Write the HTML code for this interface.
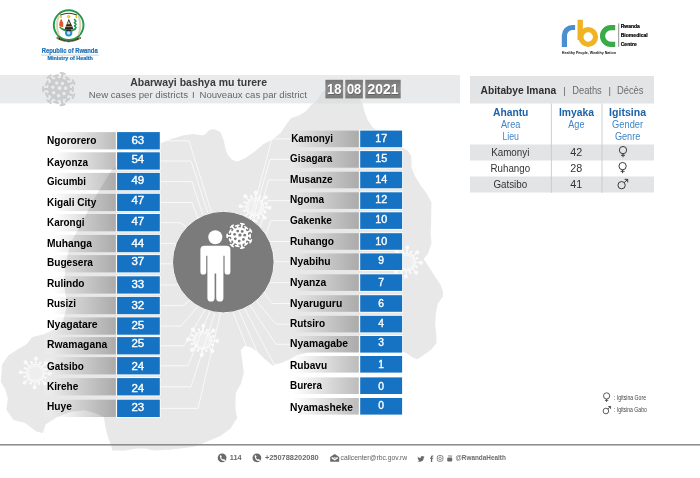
<!DOCTYPE html>
<html lang="rw"><head><meta charset="utf-8"><title>Abarwayi bashya mu turere 18 08 2021</title>
<style>html,body{margin:0;padding:0;background:#fff;}body{width:700px;height:478px;overflow:hidden;}svg{display:block;will-change:transform;}svg text{font-family:"Liberation Sans",sans-serif;}</style>
</head><body>
<svg width="700" height="478" viewBox="0 0 700 478">
<defs>
<linearGradient id="lg" x1="0" y1="0" x2="1" y2="0"><stop offset="0" stop-color="#000" stop-opacity="0"/><stop offset="0.12" stop-color="#000" stop-opacity="0"/><stop offset="1" stop-color="#000" stop-opacity="0.265"/></linearGradient>
<linearGradient id="lw" x1="0" y1="0" x2="1" y2="0"><stop offset="0" stop-color="#fff" stop-opacity="0.4"/><stop offset="0.3" stop-color="#fff" stop-opacity="0"/></linearGradient>
<linearGradient id="dg" x1="0" y1="0" x2="0" y2="1"><stop offset="0" stop-color="#777"/><stop offset="0.5" stop-color="#8c8c8c"/><stop offset="1" stop-color="#777"/></linearGradient>
</defs>
<rect width="700" height="478" fill="#fff"/>
<path d="M160,144 L170,140 L183,136 L193,134.5 L203,136 L206.5,134 L208.6,131.4 L211,130 L214.3,129.8 L220,132.5 L222.9,140 L225.7,151.4 L228,156 L231.4,160 L237.1,162.2 L245.7,158.6 L255.7,151.4 L264.3,144.3 L272.9,140 L281.4,132.9 L287.1,124.3 L291.4,118.6 L298.6,116.3 L305.7,112.3 L311.4,105.7 L317.1,100 L322,92 L335,84 L350,88 L358,96 L361.8,103 L364,112 L367,120 L371.7,127.2 L385,137 L402,148 L407.6,151.3 L410.7,156.4 L411,167.7 L413.8,175.2 L420,185.3 L426.4,194 L430.9,202.5 L430.6,215 L430.4,225 L430,234 L430.9,243.1 L427.4,253.6 L422.9,258.9 L427.4,265.7 L434.2,276.3 L440.2,285.3 L442.2,291 L442.5,296 L437.2,303.6 L435.4,312.6 L434.5,324.7 L435.7,333.7 L436,342.8 L430.4,349.6 L422.9,354.8 L417.6,358.6 L413.1,357.1 L407.8,353.3 L403.3,351.1 L380,351 L340,351.5 L308,352 L296,355 L289.2,358.9 L280.4,362.6 L272.9,365.1 L265.3,358.9 L257.8,351.3 L250.3,346.3 L244,345.5 L240.2,350.1 L241.5,360.1 L243.2,372.7 L240.2,384 L235.2,392.8 L234.7,407.8 L236.5,417.9 L230.2,427.9 L220.1,435.5 L205.1,441.7 L197.5,445 L192,446.5 L172,449 L154,450 L145,448 L137,448 L125,450 L113,450 L111.6,445 L108.8,438 L105.9,426.7 L104.5,416.8 L96,412.6 L84.7,409.7 L70.6,411.2 L56.5,416.8 L45.2,423.9 L42.4,432.3 L36.7,430.9 L25.4,422.5 L14.1,419.6 L7,409.7 L8.5,398.4 L5.6,388.6 L1.4,381.5 L2.8,364.5 L8.5,356 L17,350.4 L26.8,344.8 L32.5,337.7 L43.8,334.9 L50,332 L62.6,325 L68,305 L64.5,285 L66.4,263 L71,243 L83.3,222 L92.7,202 L105,182 L112.5,170 L135,156Z" fill="#e8e8e8" stroke="#e8e8e8" stroke-width="1.2" stroke-linejoin="round"/>
<g fill="none" stroke="#fff" opacity="0.8">
<circle cx="255" cy="207" r="8.8" stroke-width="1.3" fill="#fff" fill-opacity="0.35"/>
<circle cx="255" cy="207" r="6.86" stroke-width="0.7"/>
<line x1="264.39" y1="207.47" x2="269.48" y2="207.72" stroke-width="1.3"/>
<circle cx="269.48" cy="207.72" r="2.0" fill="#fff" stroke="none"/>
<line x1="263.49" y1="211.03" x2="265.16" y2="211.81" stroke-width="0.9"/>
<circle cx="265.16" cy="211.81" r="1.3" fill="#fff" stroke="none"/>
<line x1="261.31" y1="213.97" x2="264.73" y2="217.75" stroke-width="1.3"/>
<circle cx="264.73" cy="217.75" r="2.0" fill="#fff" stroke="none"/>
<line x1="258.16" y1="215.85" x2="258.78" y2="217.59" stroke-width="0.9"/>
<circle cx="258.78" cy="217.59" r="1.3" fill="#fff" stroke="none"/>
<line x1="254.53" y1="216.39" x2="254.28" y2="221.48" stroke-width="1.3"/>
<circle cx="254.28" cy="221.48" r="2.0" fill="#fff" stroke="none"/>
<line x1="250.97" y1="215.49" x2="250.19" y2="217.16" stroke-width="0.9"/>
<circle cx="250.19" cy="217.16" r="1.3" fill="#fff" stroke="none"/>
<line x1="248.03" y1="213.31" x2="244.25" y2="216.73" stroke-width="1.3"/>
<circle cx="244.25" cy="216.73" r="2.0" fill="#fff" stroke="none"/>
<line x1="246.15" y1="210.16" x2="244.41" y2="210.78" stroke-width="0.9"/>
<circle cx="244.41" cy="210.78" r="1.3" fill="#fff" stroke="none"/>
<line x1="245.61" y1="206.53" x2="240.52" y2="206.28" stroke-width="1.3"/>
<circle cx="240.52" cy="206.28" r="2.0" fill="#fff" stroke="none"/>
<line x1="246.51" y1="202.97" x2="244.84" y2="202.19" stroke-width="0.9"/>
<circle cx="244.84" cy="202.19" r="1.3" fill="#fff" stroke="none"/>
<line x1="248.69" y1="200.03" x2="245.27" y2="196.25" stroke-width="1.3"/>
<circle cx="245.27" cy="196.25" r="2.0" fill="#fff" stroke="none"/>
<line x1="251.84" y1="198.15" x2="251.22" y2="196.41" stroke-width="0.9"/>
<circle cx="251.22" cy="196.41" r="1.3" fill="#fff" stroke="none"/>
<line x1="255.47" y1="197.61" x2="255.72" y2="192.52" stroke-width="1.3"/>
<circle cx="255.72" cy="192.52" r="2.0" fill="#fff" stroke="none"/>
<line x1="259.03" y1="198.51" x2="259.81" y2="196.84" stroke-width="0.9"/>
<circle cx="259.81" cy="196.84" r="1.3" fill="#fff" stroke="none"/>
<line x1="261.97" y1="200.69" x2="265.75" y2="197.27" stroke-width="1.3"/>
<circle cx="265.75" cy="197.27" r="2.0" fill="#fff" stroke="none"/>
<line x1="263.85" y1="203.84" x2="265.59" y2="203.22" stroke-width="0.9"/>
<circle cx="265.59" cy="203.22" r="1.3" fill="#fff" stroke="none"/>
</g>
<g fill="none" stroke="#fff" opacity="0.8">
<circle cx="406.5" cy="262" r="8.8" stroke-width="1.3" fill="#fff" fill-opacity="0.35"/>
<circle cx="406.5" cy="262" r="6.86" stroke-width="0.7"/>
<line x1="415.89" y1="262.47" x2="420.98" y2="262.72" stroke-width="1.3"/>
<circle cx="420.98" cy="262.72" r="2.0" fill="#fff" stroke="none"/>
<line x1="414.99" y1="266.03" x2="416.66" y2="266.81" stroke-width="0.9"/>
<circle cx="416.66" cy="266.81" r="1.3" fill="#fff" stroke="none"/>
<line x1="412.81" y1="268.97" x2="416.23" y2="272.75" stroke-width="1.3"/>
<circle cx="416.23" cy="272.75" r="2.0" fill="#fff" stroke="none"/>
<line x1="409.66" y1="270.85" x2="410.28" y2="272.59" stroke-width="0.9"/>
<circle cx="410.28" cy="272.59" r="1.3" fill="#fff" stroke="none"/>
<line x1="406.03" y1="271.39" x2="405.78" y2="276.48" stroke-width="1.3"/>
<circle cx="405.78" cy="276.48" r="2.0" fill="#fff" stroke="none"/>
<line x1="402.47" y1="270.49" x2="401.69" y2="272.16" stroke-width="0.9"/>
<circle cx="401.69" cy="272.16" r="1.3" fill="#fff" stroke="none"/>
<line x1="399.53" y1="268.31" x2="395.75" y2="271.73" stroke-width="1.3"/>
<circle cx="395.75" cy="271.73" r="2.0" fill="#fff" stroke="none"/>
<line x1="397.65" y1="265.16" x2="395.91" y2="265.78" stroke-width="0.9"/>
<circle cx="395.91" cy="265.78" r="1.3" fill="#fff" stroke="none"/>
<line x1="397.11" y1="261.53" x2="392.02" y2="261.28" stroke-width="1.3"/>
<circle cx="392.02" cy="261.28" r="2.0" fill="#fff" stroke="none"/>
<line x1="398.01" y1="257.97" x2="396.34" y2="257.19" stroke-width="0.9"/>
<circle cx="396.34" cy="257.19" r="1.3" fill="#fff" stroke="none"/>
<line x1="400.19" y1="255.03" x2="396.77" y2="251.25" stroke-width="1.3"/>
<circle cx="396.77" cy="251.25" r="2.0" fill="#fff" stroke="none"/>
<line x1="403.34" y1="253.15" x2="402.72" y2="251.41" stroke-width="0.9"/>
<circle cx="402.72" cy="251.41" r="1.3" fill="#fff" stroke="none"/>
<line x1="406.97" y1="252.61" x2="407.22" y2="247.52" stroke-width="1.3"/>
<circle cx="407.22" cy="247.52" r="2.0" fill="#fff" stroke="none"/>
<line x1="410.53" y1="253.51" x2="411.31" y2="251.84" stroke-width="0.9"/>
<circle cx="411.31" cy="251.84" r="1.3" fill="#fff" stroke="none"/>
<line x1="413.47" y1="255.69" x2="417.25" y2="252.27" stroke-width="1.3"/>
<circle cx="417.25" cy="252.27" r="2.0" fill="#fff" stroke="none"/>
<line x1="415.35" y1="258.84" x2="417.09" y2="258.22" stroke-width="0.9"/>
<circle cx="417.09" cy="258.22" r="1.3" fill="#fff" stroke="none"/>
</g>
<g fill="none" stroke="#fff" opacity="0.8">
<circle cx="202.6" cy="340.2" r="8.8" stroke-width="1.3" fill="#fff" fill-opacity="0.35"/>
<circle cx="202.6" cy="340.2" r="6.86" stroke-width="0.7"/>
<line x1="211.99" y1="340.67" x2="217.08" y2="340.92" stroke-width="1.3"/>
<circle cx="217.08" cy="340.92" r="2.0" fill="#fff" stroke="none"/>
<line x1="211.09" y1="344.23" x2="212.76" y2="345.01" stroke-width="0.9"/>
<circle cx="212.76" cy="345.01" r="1.3" fill="#fff" stroke="none"/>
<line x1="208.91" y1="347.17" x2="212.33" y2="350.95" stroke-width="1.3"/>
<circle cx="212.33" cy="350.95" r="2.0" fill="#fff" stroke="none"/>
<line x1="205.76" y1="349.05" x2="206.38" y2="350.79" stroke-width="0.9"/>
<circle cx="206.38" cy="350.79" r="1.3" fill="#fff" stroke="none"/>
<line x1="202.13" y1="349.59" x2="201.88" y2="354.68" stroke-width="1.3"/>
<circle cx="201.88" cy="354.68" r="2.0" fill="#fff" stroke="none"/>
<line x1="198.57" y1="348.69" x2="197.79" y2="350.36" stroke-width="0.9"/>
<circle cx="197.79" cy="350.36" r="1.3" fill="#fff" stroke="none"/>
<line x1="195.63" y1="346.51" x2="191.85" y2="349.93" stroke-width="1.3"/>
<circle cx="191.85" cy="349.93" r="2.0" fill="#fff" stroke="none"/>
<line x1="193.75" y1="343.36" x2="192.01" y2="343.98" stroke-width="0.9"/>
<circle cx="192.01" cy="343.98" r="1.3" fill="#fff" stroke="none"/>
<line x1="193.21" y1="339.73" x2="188.12" y2="339.48" stroke-width="1.3"/>
<circle cx="188.12" cy="339.48" r="2.0" fill="#fff" stroke="none"/>
<line x1="194.11" y1="336.17" x2="192.44" y2="335.39" stroke-width="0.9"/>
<circle cx="192.44" cy="335.39" r="1.3" fill="#fff" stroke="none"/>
<line x1="196.29" y1="333.23" x2="192.87" y2="329.45" stroke-width="1.3"/>
<circle cx="192.87" cy="329.45" r="2.0" fill="#fff" stroke="none"/>
<line x1="199.44" y1="331.35" x2="198.82" y2="329.61" stroke-width="0.9"/>
<circle cx="198.82" cy="329.61" r="1.3" fill="#fff" stroke="none"/>
<line x1="203.07" y1="330.81" x2="203.32" y2="325.72" stroke-width="1.3"/>
<circle cx="203.32" cy="325.72" r="2.0" fill="#fff" stroke="none"/>
<line x1="206.63" y1="331.71" x2="207.41" y2="330.04" stroke-width="0.9"/>
<circle cx="207.41" cy="330.04" r="1.3" fill="#fff" stroke="none"/>
<line x1="209.57" y1="333.89" x2="213.35" y2="330.47" stroke-width="1.3"/>
<circle cx="213.35" cy="330.47" r="2.0" fill="#fff" stroke="none"/>
<line x1="211.45" y1="337.04" x2="213.19" y2="336.42" stroke-width="0.9"/>
<circle cx="213.19" cy="336.42" r="1.3" fill="#fff" stroke="none"/>
</g>
<g fill="none" stroke="#fff" opacity="0.8">
<circle cx="35.3" cy="373" r="8.8" stroke-width="1.3" fill="#fff" fill-opacity="0.35"/>
<circle cx="35.3" cy="373" r="6.86" stroke-width="0.7"/>
<line x1="44.69" y1="373.47" x2="49.78" y2="373.72" stroke-width="1.3"/>
<circle cx="49.78" cy="373.72" r="2.0" fill="#fff" stroke="none"/>
<line x1="43.79" y1="377.03" x2="45.46" y2="377.81" stroke-width="0.9"/>
<circle cx="45.46" cy="377.81" r="1.3" fill="#fff" stroke="none"/>
<line x1="41.61" y1="379.97" x2="45.03" y2="383.75" stroke-width="1.3"/>
<circle cx="45.03" cy="383.75" r="2.0" fill="#fff" stroke="none"/>
<line x1="38.46" y1="381.85" x2="39.08" y2="383.59" stroke-width="0.9"/>
<circle cx="39.08" cy="383.59" r="1.3" fill="#fff" stroke="none"/>
<line x1="34.83" y1="382.39" x2="34.58" y2="387.48" stroke-width="1.3"/>
<circle cx="34.58" cy="387.48" r="2.0" fill="#fff" stroke="none"/>
<line x1="31.27" y1="381.49" x2="30.49" y2="383.16" stroke-width="0.9"/>
<circle cx="30.49" cy="383.16" r="1.3" fill="#fff" stroke="none"/>
<line x1="28.33" y1="379.31" x2="24.55" y2="382.73" stroke-width="1.3"/>
<circle cx="24.55" cy="382.73" r="2.0" fill="#fff" stroke="none"/>
<line x1="26.45" y1="376.16" x2="24.71" y2="376.78" stroke-width="0.9"/>
<circle cx="24.71" cy="376.78" r="1.3" fill="#fff" stroke="none"/>
<line x1="25.91" y1="372.53" x2="20.82" y2="372.28" stroke-width="1.3"/>
<circle cx="20.82" cy="372.28" r="2.0" fill="#fff" stroke="none"/>
<line x1="26.81" y1="368.97" x2="25.14" y2="368.19" stroke-width="0.9"/>
<circle cx="25.14" cy="368.19" r="1.3" fill="#fff" stroke="none"/>
<line x1="28.99" y1="366.03" x2="25.57" y2="362.25" stroke-width="1.3"/>
<circle cx="25.57" cy="362.25" r="2.0" fill="#fff" stroke="none"/>
<line x1="32.14" y1="364.15" x2="31.52" y2="362.41" stroke-width="0.9"/>
<circle cx="31.52" cy="362.41" r="1.3" fill="#fff" stroke="none"/>
<line x1="35.77" y1="363.61" x2="36.02" y2="358.52" stroke-width="1.3"/>
<circle cx="36.02" cy="358.52" r="2.0" fill="#fff" stroke="none"/>
<line x1="39.33" y1="364.51" x2="40.11" y2="362.84" stroke-width="0.9"/>
<circle cx="40.11" cy="362.84" r="1.3" fill="#fff" stroke="none"/>
<line x1="42.27" y1="366.69" x2="46.05" y2="363.27" stroke-width="1.3"/>
<circle cx="46.05" cy="363.27" r="2.0" fill="#fff" stroke="none"/>
<line x1="44.15" y1="369.84" x2="45.89" y2="369.22" stroke-width="0.9"/>
<circle cx="45.89" cy="369.22" r="1.3" fill="#fff" stroke="none"/>
</g>
<g fill="none" stroke="#fff" stroke-width="0.8" opacity="0.9">
<polyline points="160.0,140.8 189.0,140.8 211.5,212.5"/>
<polyline points="160.0,161.0 191.0,161.0 208.0,213.5"/>
<polyline points="160.0,181.6 192.0,181.6 203.0,215.5"/>
<polyline points="160.0,202.5 192.0,202.5 198.0,218.0"/>
<polyline points="160.0,222.7 180.0,222.7 187.0,227.0"/>
<polyline points="160.0,243.6 176.5,243.6"/>
<polyline points="160.0,263.8 172.6,263.8"/>
<polyline points="160.0,285.0 178.0,285.0"/>
<polyline points="160.0,305.6 183.0,305.6 190.0,300.0"/>
<polyline points="160.0,326.1 181.0,326.1 198.0,306.0"/>
<polyline points="160.0,345.8 184.0,345.8 205.0,309.5"/>
<polyline points="160.0,365.8 188.0,365.8 210.0,311.2"/>
<polyline points="160.0,386.8 191.0,386.8 215.0,312.2"/>
<polyline points="160.0,408.4 198.0,408.4 220.6,312.9"/>
<polyline points="290.0,138.9 272.0,138.9 250.5,219.0"/>
<polyline points="290.0,159.4 270.0,159.4 252.5,220.5"/>
<polyline points="290.0,180.0 268.5,180.0 256.0,223.5"/>
<polyline points="290.0,200.6 268.0,200.6 260.0,227.0"/>
<polyline points="290.0,220.6 271.0,220.6 266.0,234.0"/>
<polyline points="290.0,241.5 270.0,241.5"/>
<polyline points="290.0,261.7 274.0,261.7"/>
<polyline points="290.0,282.6 269.5,282.6"/>
<polyline points="290.0,303.5 272.0,303.5 264.0,292.5"/>
<polyline points="290.0,324.1 276.0,324.1 256.0,300.5"/>
<polyline points="290.0,344.3 276.0,344.3 250.0,305.5"/>
<polyline points="290.0,364.3 274.0,364.3 244.5,308.3"/>
<polyline points="290.0,385.7 272.0,385.7 239.0,310.4"/>
<polyline points="290.0,406.3 270.0,406.3 233.0,312.0"/>
</g>
<rect x="0" y="75.0" width="460" height="28.4" fill="#e9eaeb"/>
<clipPath id="hb"><rect x="0" y="75.0" width="460" height="28.4"/></clipPath>
<path d="M160,144 L170,140 L183,136 L193,134.5 L203,136 L206.5,134 L208.6,131.4 L211,130 L214.3,129.8 L220,132.5 L222.9,140 L225.7,151.4 L228,156 L231.4,160 L237.1,162.2 L245.7,158.6 L255.7,151.4 L264.3,144.3 L272.9,140 L281.4,132.9 L287.1,124.3 L291.4,118.6 L298.6,116.3 L305.7,112.3 L311.4,105.7 L317.1,100 L322,92 L335,84 L350,88 L358,96 L361.8,103 L364,112 L367,120 L371.7,127.2 L385,137 L402,148 L407.6,151.3 L410.7,156.4 L411,167.7 L413.8,175.2 L420,185.3 L426.4,194 L430.9,202.5 L430.6,215 L430.4,225 L430,234 L430.9,243.1 L427.4,253.6 L422.9,258.9 L427.4,265.7 L434.2,276.3 L440.2,285.3 L442.2,291 L442.5,296 L437.2,303.6 L435.4,312.6 L434.5,324.7 L435.7,333.7 L436,342.8 L430.4,349.6 L422.9,354.8 L417.6,358.6 L413.1,357.1 L407.8,353.3 L403.3,351.1 L380,351 L340,351.5 L308,352 L296,355 L289.2,358.9 L280.4,362.6 L272.9,365.1 L265.3,358.9 L257.8,351.3 L250.3,346.3 L244,345.5 L240.2,350.1 L241.5,360.1 L243.2,372.7 L240.2,384 L235.2,392.8 L234.7,407.8 L236.5,417.9 L230.2,427.9 L220.1,435.5 L205.1,441.7 L197.5,445 L192,446.5 L172,449 L154,450 L145,448 L137,448 L125,450 L113,450 L111.6,445 L108.8,438 L105.9,426.7 L104.5,416.8 L96,412.6 L84.7,409.7 L70.6,411.2 L56.5,416.8 L45.2,423.9 L42.4,432.3 L36.7,430.9 L25.4,422.5 L14.1,419.6 L7,409.7 L8.5,398.4 L5.6,388.6 L1.4,381.5 L2.8,364.5 L8.5,356 L17,350.4 L26.8,344.8 L32.5,337.7 L43.8,334.9 L50,332 L62.6,325 L68,305 L64.5,285 L66.4,263 L71,243 L83.3,222 L92.7,202 L105,182 L112.5,170 L135,156Z" fill="#000" opacity="0.04" clip-path="url(#hb)"/>
<g fill="#cbcccd" stroke="#cbcccd" stroke-linecap="round">
<circle cx="59.1" cy="89.1" r="11.0" stroke="none"/>
<line x1="61.32" y1="79.45" x2="62.70" y2="73.44" stroke-width="2.20"/>
<line x1="60.55" y1="72.95" x2="64.84" y2="73.94" stroke-width="1.87"/>
<line x1="65.28" y1="81.37" x2="67.65" y2="78.41" stroke-width="2.20"/>
<line x1="65.93" y1="77.04" x2="69.37" y2="79.79" stroke-width="1.87"/>
<line x1="68.03" y1="84.82" x2="73.58" y2="82.15" stroke-width="2.20"/>
<line x1="72.63" y1="80.17" x2="74.54" y2="84.13" stroke-width="1.87"/>
<line x1="69.00" y1="89.11" x2="72.78" y2="89.12" stroke-width="2.20"/>
<line x1="72.79" y1="86.92" x2="72.78" y2="91.32" stroke-width="1.87"/>
<line x1="68.01" y1="93.41" x2="73.56" y2="96.09" stroke-width="2.20"/>
<line x1="74.52" y1="94.11" x2="72.61" y2="98.07" stroke-width="1.87"/>
<line x1="65.26" y1="96.85" x2="67.62" y2="99.81" stroke-width="2.20"/>
<line x1="69.34" y1="98.44" x2="65.90" y2="101.18" stroke-width="1.87"/>
<line x1="61.29" y1="98.75" x2="62.65" y2="104.77" stroke-width="2.20"/>
<line x1="64.80" y1="104.28" x2="60.51" y2="105.25" stroke-width="1.87"/>
<line x1="56.88" y1="98.75" x2="56.04" y2="102.44" stroke-width="2.20"/>
<line x1="58.18" y1="102.93" x2="53.89" y2="101.95" stroke-width="1.87"/>
<line x1="52.92" y1="96.83" x2="49.07" y2="101.65" stroke-width="2.20"/>
<line x1="50.78" y1="103.02" x2="47.35" y2="100.27" stroke-width="1.87"/>
<line x1="50.17" y1="93.38" x2="46.76" y2="95.02" stroke-width="2.20"/>
<line x1="47.71" y1="97.00" x2="45.81" y2="93.04" stroke-width="1.87"/>
<line x1="49.20" y1="89.09" x2="43.04" y2="89.08" stroke-width="2.20"/>
<line x1="43.03" y1="91.28" x2="43.04" y2="86.88" stroke-width="1.87"/>
<line x1="50.19" y1="84.79" x2="46.78" y2="83.15" stroke-width="2.20"/>
<line x1="45.82" y1="85.13" x2="47.74" y2="81.16" stroke-width="1.87"/>
<line x1="52.94" y1="81.35" x2="49.10" y2="76.53" stroke-width="2.20"/>
<line x1="47.38" y1="77.90" x2="50.82" y2="75.16" stroke-width="1.87"/>
<line x1="56.91" y1="79.45" x2="56.07" y2="75.75" stroke-width="2.20"/>
<line x1="53.93" y1="76.24" x2="58.22" y2="75.27" stroke-width="1.87"/>
</g>
<g fill="#e9eaeb">
<circle cx="59.54" cy="88.00" r="2.09"/>
<circle cx="63.93" cy="93.60" r="1.76"/>
<circle cx="58.59" cy="95.68" r="1.76"/>
<circle cx="53.64" cy="92.81" r="1.76"/>
<circle cx="52.80" cy="87.14" r="1.76"/>
<circle cx="56.70" cy="82.95" r="1.76"/>
<circle cx="62.41" cy="83.39" r="1.76"/>
<circle cx="65.63" cy="88.13" r="1.76"/>
</g>
<text x="130.2" y="86.1" font-size="10.4" font-weight="bold" fill="#3b3b3b" textLength="136.8" lengthAdjust="spacingAndGlyphs">Abarwayi bashya mu turere</text>
<text x="88.8" y="97.8" font-size="9.7" font-weight="normal" fill="#666" textLength="99.2" lengthAdjust="spacingAndGlyphs">New cases per districts</text>
<text x="191.9" y="97.7" font-size="9.6" font-weight="normal" fill="#666">I</text>
<text x="199.5" y="97.8" font-size="9.7" font-weight="normal" fill="#666" textLength="107.5" lengthAdjust="spacingAndGlyphs">Nouveaux cas par district</text>
<rect x="325.4" y="79.8" width="17.7" height="18.6" fill="url(#dg)"/>
<text x="334.85" y="94.8" font-size="14" font-weight="bold" fill="#4a4a4a" text-anchor="middle" textLength="14.4" lengthAdjust="spacingAndGlyphs" opacity="0.55">18</text>
<text x="334.25" y="94.2" font-size="14" font-weight="bold" fill="#fff" text-anchor="middle" textLength="14.4" lengthAdjust="spacingAndGlyphs">18</text>
<rect x="345.3" y="79.8" width="17.6" height="18.6" fill="url(#dg)"/>
<text x="354.70000000000005" y="94.8" font-size="14" font-weight="bold" fill="#4a4a4a" text-anchor="middle" textLength="14.4" lengthAdjust="spacingAndGlyphs" opacity="0.55">08</text>
<text x="354.1" y="94.2" font-size="14" font-weight="bold" fill="#fff" text-anchor="middle" textLength="14.4" lengthAdjust="spacingAndGlyphs">08</text>
<rect x="365.3" y="79.8" width="35.4" height="18.6" fill="url(#dg)"/>
<text x="383.6" y="94.8" font-size="14" font-weight="bold" fill="#4a4a4a" text-anchor="middle" textLength="31.0" lengthAdjust="spacingAndGlyphs" opacity="0.55">2021</text>
<text x="383.0" y="94.2" font-size="14" font-weight="bold" fill="#fff" text-anchor="middle" textLength="31.0" lengthAdjust="spacingAndGlyphs">2021</text>
<rect x="470" y="76" width="184" height="27.5" fill="#e3e4e5"/>
<text x="480.5" y="94.0" font-size="10.6" font-weight="bold" fill="#2e2e2e" textLength="75.6" lengthAdjust="spacingAndGlyphs">Abitabye Imana</text>
<text x="563.2" y="93.6" font-size="9.5" font-weight="normal" fill="#666">|</text>
<text x="572.2" y="94.0" font-size="10.6" font-weight="normal" fill="#6c6c6c" textLength="29.6" lengthAdjust="spacingAndGlyphs">Deaths</text>
<text x="608.4" y="93.6" font-size="9.5" font-weight="normal" fill="#666">|</text>
<text x="617.0" y="94.0" font-size="10.6" font-weight="normal" fill="#6c6c6c" textLength="26.5" lengthAdjust="spacingAndGlyphs">Décès</text>
<rect x="470" y="144.5" width="184" height="16" fill="#e3e4e5"/>
<rect x="470" y="176.5" width="184" height="16" fill="#e3e4e5"/>
<line x1="551.4" y1="103.5" x2="551.4" y2="192.8" stroke="#c9c9c9" stroke-width="0.9"/>
<line x1="602" y1="103.5" x2="602" y2="192.8" stroke="#c9c9c9" stroke-width="0.9"/>
<text x="510.7" y="116.0" font-size="10.6" font-weight="bold" fill="#1b62a7" text-anchor="middle" textLength="35.4" lengthAdjust="spacingAndGlyphs">Ahantu</text>
<text x="510.7" y="128.0" font-size="10.3" font-weight="normal" fill="#3f85c6" text-anchor="middle" textLength="19.4" lengthAdjust="spacingAndGlyphs">Area</text>
<text x="510.7" y="140.0" font-size="10.3" font-weight="normal" fill="#3f85c6" text-anchor="middle" textLength="16.6" lengthAdjust="spacingAndGlyphs">Lieu</text>
<text x="576.4" y="116.0" font-size="10.6" font-weight="bold" fill="#1b62a7" text-anchor="middle" textLength="35.0" lengthAdjust="spacingAndGlyphs">Imyaka</text>
<text x="576.4" y="128.0" font-size="10.3" font-weight="normal" fill="#3f85c6" text-anchor="middle" textLength="16.2" lengthAdjust="spacingAndGlyphs">Age</text>
<text x="627.6" y="116.0" font-size="10.6" font-weight="bold" fill="#1b62a7" text-anchor="middle" textLength="37.0" lengthAdjust="spacingAndGlyphs">Igitsina</text>
<text x="627.6" y="128.0" font-size="10.3" font-weight="normal" fill="#3f85c6" text-anchor="middle" textLength="31.0" lengthAdjust="spacingAndGlyphs">Gender</text>
<text x="627.6" y="140.0" font-size="10.3" font-weight="normal" fill="#3f85c6" text-anchor="middle" textLength="25.4" lengthAdjust="spacingAndGlyphs">Genre</text>
<text x="510.3" y="155.8" font-size="10.2" font-weight="normal" fill="#333" text-anchor="middle" textLength="38.2" lengthAdjust="spacingAndGlyphs">Kamonyi</text>
<text x="576.2" y="155.8" font-size="10.2" font-weight="normal" fill="#333" text-anchor="middle" textLength="12.0" lengthAdjust="spacingAndGlyphs">42</text>
<text x="510.3" y="172.2" font-size="10.2" font-weight="normal" fill="#333" text-anchor="middle" textLength="39.6" lengthAdjust="spacingAndGlyphs">Ruhango</text>
<text x="576.2" y="172.2" font-size="10.2" font-weight="normal" fill="#333" text-anchor="middle" textLength="12.0" lengthAdjust="spacingAndGlyphs">28</text>
<text x="510.3" y="188.2" font-size="10.2" font-weight="normal" fill="#333" text-anchor="middle" textLength="33.8" lengthAdjust="spacingAndGlyphs">Gatsibo</text>
<text x="576.2" y="188.2" font-size="10.2" font-weight="normal" fill="#333" text-anchor="middle" textLength="12.0" lengthAdjust="spacingAndGlyphs">41</text>
<g fill="none" stroke="#333" stroke-width="0.95"><circle cx="623.0" cy="150.1" r="3.65"/><line x1="623.0" y1="153.75" x2="623.0" y2="157.22"/><line x1="620.96" y1="155.28" x2="625.04" y2="155.28"/></g>
<g fill="none" stroke="#333" stroke-width="0.95"><circle cx="622.6" cy="166.1" r="3.65"/><line x1="622.6" y1="169.75" x2="622.6" y2="173.22"/><line x1="620.56" y1="171.28" x2="624.64" y2="171.28"/></g>
<g fill="none" stroke="#333" stroke-width="0.95"><circle cx="621.6" cy="185.2" r="3.65"/><line x1="624.18" y1="182.62" x2="627.73" y2="179.36"/><polyline points="624.63,179.36 627.73,179.36 627.73,182.46"/></g>
<rect x="44" y="132.1" width="71.8" height="17.3" fill="url(#lw)" opacity="0.3"/>
<rect x="44" y="132.1" width="71.8" height="17.3" fill="url(#lg)"/>
<rect x="116.2" y="131.2" width="44.5" height="19.1" fill="#fff" opacity="0.85"/>
<rect x="117.1" y="132.1" width="42.7" height="17.3" fill="#1673c3"/>
<text x="47.0" y="143.7" font-size="10.6" font-weight="bold" fill="#000" textLength="49.4" lengthAdjust="spacingAndGlyphs">Ngororero</text>
<text x="137.8" y="143.7" font-size="10.3" font-weight="normal" fill="#fff" text-anchor="middle" textLength="12.8" lengthAdjust="spacingAndGlyphs" stroke="#fff" stroke-width="0.35">63</text>
<rect x="44" y="152.3" width="71.8" height="17.3" fill="url(#lw)" opacity="0.3"/>
<rect x="44" y="152.3" width="71.8" height="17.3" fill="url(#lg)"/>
<rect x="116.2" y="151.4" width="44.5" height="19.1" fill="#fff" opacity="0.85"/>
<rect x="117.1" y="152.3" width="42.7" height="17.3" fill="#1673c3"/>
<text x="47.0" y="165.5" font-size="10.6" font-weight="bold" fill="#000" textLength="41.1" lengthAdjust="spacingAndGlyphs">Kayonza</text>
<text x="137.8" y="163.4" font-size="10.3" font-weight="normal" fill="#fff" text-anchor="middle" textLength="12.8" lengthAdjust="spacingAndGlyphs" stroke="#fff" stroke-width="0.35">54</text>
<rect x="44" y="172.9" width="71.8" height="17.3" fill="url(#lw)" opacity="0.3"/>
<rect x="44" y="172.9" width="71.8" height="17.3" fill="url(#lg)"/>
<rect x="116.2" y="172.0" width="44.5" height="19.1" fill="#fff" opacity="0.85"/>
<rect x="117.1" y="172.9" width="42.7" height="17.3" fill="#1673c3"/>
<text x="47.0" y="184.9" font-size="10.6" font-weight="bold" fill="#000" textLength="39.0" lengthAdjust="spacingAndGlyphs">Gicumbi</text>
<text x="137.8" y="183.5" font-size="10.3" font-weight="normal" fill="#fff" text-anchor="middle" textLength="12.8" lengthAdjust="spacingAndGlyphs" stroke="#fff" stroke-width="0.35">49</text>
<rect x="44" y="193.8" width="71.8" height="17.3" fill="url(#lw)" opacity="0.3"/>
<rect x="44" y="193.8" width="71.8" height="17.3" fill="url(#lg)"/>
<rect x="116.2" y="192.9" width="44.5" height="19.1" fill="#fff" opacity="0.85"/>
<rect x="117.1" y="193.8" width="42.7" height="17.3" fill="#1673c3"/>
<text x="47.0" y="205.8" font-size="10.6" font-weight="bold" fill="#000" textLength="49.3" lengthAdjust="spacingAndGlyphs">Kigali City</text>
<text x="137.8" y="204.4" font-size="10.3" font-weight="normal" fill="#fff" text-anchor="middle" textLength="12.8" lengthAdjust="spacingAndGlyphs" stroke="#fff" stroke-width="0.35">47</text>
<rect x="44" y="214.0" width="71.8" height="17.3" fill="url(#lw)" opacity="0.3"/>
<rect x="44" y="214.0" width="71.8" height="17.3" fill="url(#lg)"/>
<rect x="116.2" y="213.1" width="44.5" height="19.1" fill="#fff" opacity="0.85"/>
<rect x="117.1" y="214.0" width="42.7" height="17.3" fill="#1673c3"/>
<text x="47.0" y="226.3" font-size="10.6" font-weight="bold" fill="#000" textLength="37.5" lengthAdjust="spacingAndGlyphs">Karongi</text>
<text x="137.8" y="225.0" font-size="10.3" font-weight="normal" fill="#fff" text-anchor="middle" textLength="12.8" lengthAdjust="spacingAndGlyphs" stroke="#fff" stroke-width="0.35">47</text>
<rect x="44" y="234.9" width="71.8" height="17.3" fill="url(#lw)" opacity="0.3"/>
<rect x="44" y="234.9" width="71.8" height="17.3" fill="url(#lg)"/>
<rect x="116.2" y="234.0" width="44.5" height="19.1" fill="#fff" opacity="0.85"/>
<rect x="117.1" y="234.9" width="42.7" height="17.3" fill="#1673c3"/>
<text x="47.0" y="246.6" font-size="10.6" font-weight="bold" fill="#000" textLength="45.0" lengthAdjust="spacingAndGlyphs">Muhanga</text>
<text x="137.8" y="246.6" font-size="10.3" font-weight="normal" fill="#fff" text-anchor="middle" textLength="12.8" lengthAdjust="spacingAndGlyphs" stroke="#fff" stroke-width="0.35">44</text>
<rect x="44" y="255.1" width="71.8" height="17.3" fill="url(#lw)" opacity="0.3"/>
<rect x="44" y="255.1" width="71.8" height="17.3" fill="url(#lg)"/>
<rect x="116.2" y="254.2" width="44.5" height="19.1" fill="#fff" opacity="0.85"/>
<rect x="117.1" y="255.1" width="42.7" height="17.3" fill="#1673c3"/>
<text x="47.0" y="265.8" font-size="10.6" font-weight="bold" fill="#000" textLength="46.0" lengthAdjust="spacingAndGlyphs">Bugesera</text>
<text x="137.8" y="265.4" font-size="10.3" font-weight="normal" fill="#fff" text-anchor="middle" textLength="12.8" lengthAdjust="spacingAndGlyphs" stroke="#fff" stroke-width="0.35">37</text>
<rect x="44" y="276.3" width="71.8" height="17.3" fill="url(#lw)" opacity="0.3"/>
<rect x="44" y="276.3" width="71.8" height="17.3" fill="url(#lg)"/>
<rect x="116.2" y="275.4" width="44.5" height="19.1" fill="#fff" opacity="0.85"/>
<rect x="117.1" y="276.3" width="42.7" height="17.3" fill="#1673c3"/>
<text x="47.0" y="287.4" font-size="10.6" font-weight="bold" fill="#000" textLength="37.5" lengthAdjust="spacingAndGlyphs">Rulindo</text>
<text x="137.8" y="287.8" font-size="10.3" font-weight="normal" fill="#fff" text-anchor="middle" textLength="12.8" lengthAdjust="spacingAndGlyphs" stroke="#fff" stroke-width="0.35">33</text>
<rect x="44" y="296.9" width="71.8" height="17.3" fill="url(#lw)" opacity="0.3"/>
<rect x="44" y="296.9" width="71.8" height="17.3" fill="url(#lg)"/>
<rect x="116.2" y="296.0" width="44.5" height="19.1" fill="#fff" opacity="0.85"/>
<rect x="117.1" y="296.9" width="42.7" height="17.3" fill="#1673c3"/>
<text x="47.0" y="307.1" font-size="10.6" font-weight="bold" fill="#000" textLength="29.0" lengthAdjust="spacingAndGlyphs">Rusizi</text>
<text x="137.8" y="308.9" font-size="10.3" font-weight="normal" fill="#fff" text-anchor="middle" textLength="12.8" lengthAdjust="spacingAndGlyphs" stroke="#fff" stroke-width="0.35">32</text>
<rect x="44" y="317.4" width="71.8" height="17.3" fill="url(#lw)" opacity="0.3"/>
<rect x="44" y="317.4" width="71.8" height="17.3" fill="url(#lg)"/>
<rect x="116.2" y="316.5" width="44.5" height="19.1" fill="#fff" opacity="0.85"/>
<rect x="117.1" y="317.4" width="42.7" height="17.3" fill="#1673c3"/>
<text x="47.0" y="328.2" font-size="10.6" font-weight="bold" fill="#000" textLength="50.699999999999996" lengthAdjust="spacingAndGlyphs">Nyagatare</text>
<text x="137.8" y="329.4" font-size="10.3" font-weight="normal" fill="#fff" text-anchor="middle" textLength="12.8" lengthAdjust="spacingAndGlyphs" stroke="#fff" stroke-width="0.35">25</text>
<rect x="44" y="337.1" width="71.8" height="17.3" fill="url(#lw)" opacity="0.3"/>
<rect x="44" y="337.1" width="71.8" height="17.3" fill="url(#lg)"/>
<rect x="116.2" y="336.2" width="44.5" height="19.1" fill="#fff" opacity="0.85"/>
<rect x="117.1" y="337.1" width="42.7" height="17.3" fill="#1673c3"/>
<text x="47.0" y="347.8" font-size="10.6" font-weight="bold" fill="#000" textLength="60.199999999999996" lengthAdjust="spacingAndGlyphs">Rwamagana</text>
<text x="137.8" y="347.4" font-size="10.3" font-weight="normal" fill="#fff" text-anchor="middle" textLength="12.8" lengthAdjust="spacingAndGlyphs" stroke="#fff" stroke-width="0.35">25</text>
<rect x="44" y="357.1" width="71.8" height="17.3" fill="url(#lw)" opacity="0.3"/>
<rect x="44" y="357.1" width="71.8" height="17.3" fill="url(#lg)"/>
<rect x="116.2" y="356.2" width="44.5" height="19.1" fill="#fff" opacity="0.85"/>
<rect x="117.1" y="357.1" width="42.7" height="17.3" fill="#1673c3"/>
<text x="47.0" y="370.0" font-size="10.6" font-weight="bold" fill="#000" textLength="36.8" lengthAdjust="spacingAndGlyphs">Gatsibo</text>
<text x="137.8" y="370.0" font-size="10.3" font-weight="normal" fill="#fff" text-anchor="middle" textLength="12.8" lengthAdjust="spacingAndGlyphs" stroke="#fff" stroke-width="0.35">24</text>
<rect x="44" y="378.1" width="71.8" height="17.3" fill="url(#lw)" opacity="0.3"/>
<rect x="44" y="378.1" width="71.8" height="17.3" fill="url(#lg)"/>
<rect x="116.2" y="377.2" width="44.5" height="19.1" fill="#fff" opacity="0.85"/>
<rect x="117.1" y="378.1" width="42.7" height="17.3" fill="#1673c3"/>
<text x="47.0" y="390.1" font-size="10.6" font-weight="bold" fill="#000" textLength="31.299999999999997" lengthAdjust="spacingAndGlyphs">Kirehe</text>
<text x="137.8" y="391.8" font-size="10.3" font-weight="normal" fill="#fff" text-anchor="middle" textLength="12.8" lengthAdjust="spacingAndGlyphs" stroke="#fff" stroke-width="0.35">24</text>
<rect x="44" y="399.7" width="71.8" height="17.3" fill="url(#lw)" opacity="0.3"/>
<rect x="44" y="399.7" width="71.8" height="17.3" fill="url(#lg)"/>
<rect x="116.2" y="398.8" width="44.5" height="19.1" fill="#fff" opacity="0.85"/>
<rect x="117.1" y="399.7" width="42.7" height="17.3" fill="#1673c3"/>
<text x="47.0" y="410.3" font-size="10.6" font-weight="bold" fill="#000" textLength="24.9" lengthAdjust="spacingAndGlyphs">Huye</text>
<text x="137.8" y="411.1" font-size="10.3" font-weight="normal" fill="#fff" text-anchor="middle" textLength="12.8" lengthAdjust="spacingAndGlyphs" stroke="#fff" stroke-width="0.35">23</text>
<rect x="284" y="130.6" width="74.8" height="16.6" fill="url(#lg)"/>
<rect x="359.3" y="129.7" width="43.7" height="18.4" fill="#fff" opacity="0.85"/>
<rect x="360.2" y="130.6" width="41.9" height="16.6" fill="#1673c3"/>
<text x="291.2" y="142.1" font-size="10.6" font-weight="bold" fill="#000" textLength="41.9" lengthAdjust="spacingAndGlyphs">Kamonyi</text>
<text x="381.2" y="142.1" font-size="10.3" font-weight="normal" fill="#fff" text-anchor="middle" textLength="12.0" lengthAdjust="spacingAndGlyphs" stroke="#fff" stroke-width="0.35">17</text>
<rect x="284" y="151.1" width="74.8" height="16.6" fill="url(#lg)"/>
<rect x="359.3" y="150.2" width="43.7" height="18.4" fill="#fff" opacity="0.85"/>
<rect x="360.2" y="151.1" width="41.9" height="16.6" fill="#1673c3"/>
<text x="290.0" y="162.3" font-size="10.6" font-weight="bold" fill="#000" textLength="42.3" lengthAdjust="spacingAndGlyphs">Gisagara</text>
<text x="381.2" y="161.8" font-size="10.3" font-weight="normal" fill="#fff" text-anchor="middle" textLength="12.0" lengthAdjust="spacingAndGlyphs" stroke="#fff" stroke-width="0.35">15</text>
<rect x="284" y="171.7" width="74.8" height="16.6" fill="url(#lg)"/>
<rect x="359.3" y="170.8" width="43.7" height="18.4" fill="#fff" opacity="0.85"/>
<rect x="360.2" y="171.7" width="41.9" height="16.6" fill="#1673c3"/>
<text x="290.0" y="183.2" font-size="10.6" font-weight="bold" fill="#000" textLength="42.599999999999994" lengthAdjust="spacingAndGlyphs">Musanze</text>
<text x="381.2" y="182.5" font-size="10.3" font-weight="normal" fill="#fff" text-anchor="middle" textLength="12.0" lengthAdjust="spacingAndGlyphs" stroke="#fff" stroke-width="0.35">14</text>
<rect x="284" y="192.3" width="74.8" height="16.6" fill="url(#lg)"/>
<rect x="359.3" y="191.4" width="43.7" height="18.4" fill="#fff" opacity="0.85"/>
<rect x="360.2" y="192.3" width="41.9" height="16.6" fill="#1673c3"/>
<text x="290.0" y="203.4" font-size="10.6" font-weight="bold" fill="#000" textLength="34.099999999999994" lengthAdjust="spacingAndGlyphs">Ngoma</text>
<text x="381.2" y="202.6" font-size="10.3" font-weight="normal" fill="#fff" text-anchor="middle" textLength="12.0" lengthAdjust="spacingAndGlyphs" stroke="#fff" stroke-width="0.35">12</text>
<rect x="284" y="212.3" width="74.8" height="16.6" fill="url(#lg)"/>
<rect x="359.3" y="211.4" width="43.7" height="18.4" fill="#fff" opacity="0.85"/>
<rect x="360.2" y="212.3" width="41.9" height="16.6" fill="#1673c3"/>
<text x="290.0" y="224.3" font-size="10.6" font-weight="bold" fill="#000" textLength="41.9" lengthAdjust="spacingAndGlyphs">Gakenke</text>
<text x="381.2" y="223.4" font-size="10.3" font-weight="normal" fill="#fff" text-anchor="middle" textLength="12.0" lengthAdjust="spacingAndGlyphs" stroke="#fff" stroke-width="0.35">10</text>
<rect x="284" y="233.2" width="74.8" height="16.6" fill="url(#lg)"/>
<rect x="359.3" y="232.3" width="43.7" height="18.4" fill="#fff" opacity="0.85"/>
<rect x="360.2" y="233.2" width="41.9" height="16.6" fill="#1673c3"/>
<text x="290.0" y="244.9" font-size="10.6" font-weight="bold" fill="#000" textLength="44.0" lengthAdjust="spacingAndGlyphs">Ruhango</text>
<text x="381.2" y="244.9" font-size="10.3" font-weight="normal" fill="#fff" text-anchor="middle" textLength="12.0" lengthAdjust="spacingAndGlyphs" stroke="#fff" stroke-width="0.35">10</text>
<rect x="284" y="253.4" width="74.8" height="16.6" fill="url(#lg)"/>
<rect x="359.3" y="252.5" width="43.7" height="18.4" fill="#fff" opacity="0.85"/>
<rect x="360.2" y="253.4" width="41.9" height="16.6" fill="#1673c3"/>
<text x="290.0" y="265.4" font-size="10.6" font-weight="bold" fill="#000" textLength="40.599999999999994" lengthAdjust="spacingAndGlyphs">Nyabihu</text>
<text x="381.2" y="263.7" font-size="10.3" font-weight="normal" fill="#fff" text-anchor="middle" stroke="#fff" stroke-width="0.35">9</text>
<rect x="284" y="274.3" width="74.8" height="16.6" fill="url(#lg)"/>
<rect x="359.3" y="273.4" width="43.7" height="18.4" fill="#fff" opacity="0.85"/>
<rect x="360.2" y="274.3" width="41.9" height="16.6" fill="#1673c3"/>
<text x="290.0" y="286.3" font-size="10.6" font-weight="bold" fill="#000" textLength="36.3" lengthAdjust="spacingAndGlyphs">Nyanza</text>
<text x="381.2" y="285.8" font-size="10.3" font-weight="normal" fill="#fff" text-anchor="middle" stroke="#fff" stroke-width="0.35">7</text>
<rect x="284" y="295.2" width="74.8" height="16.6" fill="url(#lg)"/>
<rect x="359.3" y="294.3" width="43.7" height="18.4" fill="#fff" opacity="0.85"/>
<rect x="360.2" y="295.2" width="41.9" height="16.6" fill="#1673c3"/>
<text x="290.0" y="307.2" font-size="10.6" font-weight="bold" fill="#000" textLength="52.199999999999996" lengthAdjust="spacingAndGlyphs">Nyaruguru</text>
<text x="381.2" y="306.9" font-size="10.3" font-weight="normal" fill="#fff" text-anchor="middle" stroke="#fff" stroke-width="0.35">6</text>
<rect x="284" y="315.8" width="74.8" height="16.6" fill="url(#lg)"/>
<rect x="359.3" y="314.9" width="43.7" height="18.4" fill="#fff" opacity="0.85"/>
<rect x="360.2" y="315.8" width="41.9" height="16.6" fill="#1673c3"/>
<text x="290.0" y="326.6" font-size="10.6" font-weight="bold" fill="#000" textLength="35.099999999999994" lengthAdjust="spacingAndGlyphs">Rutsiro</text>
<text x="381.2" y="327.4" font-size="10.3" font-weight="normal" fill="#fff" text-anchor="middle" stroke="#fff" stroke-width="0.35">4</text>
<rect x="284" y="336.0" width="74.8" height="16.6" fill="url(#lg)"/>
<rect x="359.3" y="335.1" width="43.7" height="18.4" fill="#fff" opacity="0.85"/>
<rect x="360.2" y="336.0" width="41.9" height="16.6" fill="#1673c3"/>
<text x="290.0" y="346.8" font-size="10.6" font-weight="bold" fill="#000" textLength="58.099999999999994" lengthAdjust="spacingAndGlyphs">Nyamagabe</text>
<text x="381.2" y="345.8" font-size="10.3" font-weight="normal" fill="#fff" text-anchor="middle" stroke="#fff" stroke-width="0.35">3</text>
<rect x="284" y="356.0" width="74.8" height="16.6" fill="url(#lg)"/>
<rect x="359.3" y="355.1" width="43.7" height="18.4" fill="#fff" opacity="0.85"/>
<rect x="360.2" y="356.0" width="41.9" height="16.6" fill="#1673c3"/>
<text x="290.0" y="368.5" font-size="10.6" font-weight="bold" fill="#000" textLength="37.099999999999994" lengthAdjust="spacingAndGlyphs">Rubavu</text>
<text x="381.2" y="368.0" font-size="10.3" font-weight="normal" fill="#fff" text-anchor="middle" stroke="#fff" stroke-width="0.35">1</text>
<rect x="284" y="377.4" width="74.8" height="16.6" fill="url(#lg)"/>
<rect x="359.3" y="376.5" width="43.7" height="18.4" fill="#fff" opacity="0.85"/>
<rect x="360.2" y="377.4" width="41.9" height="16.6" fill="#1673c3"/>
<text x="290.0" y="388.9" font-size="10.6" font-weight="bold" fill="#000" textLength="32.0" lengthAdjust="spacingAndGlyphs">Burera</text>
<text x="381.2" y="389.8" font-size="10.3" font-weight="normal" fill="#fff" text-anchor="middle" stroke="#fff" stroke-width="0.35">0</text>
<rect x="284" y="398.0" width="74.8" height="16.6" fill="url(#lg)"/>
<rect x="359.3" y="397.1" width="43.7" height="18.4" fill="#fff" opacity="0.85"/>
<rect x="360.2" y="398.0" width="41.9" height="16.6" fill="#1673c3"/>
<text x="290.0" y="411.2" font-size="10.6" font-weight="bold" fill="#000" textLength="62.9" lengthAdjust="spacingAndGlyphs">Nyamasheke</text>
<text x="381.2" y="408.6" font-size="10.3" font-weight="normal" fill="#fff" text-anchor="middle" stroke="#fff" stroke-width="0.35">0</text>
<circle cx="223.3" cy="262.1" r="50.8" fill="#7b7b7b" stroke="#f6f6f6" stroke-width="1"/>
<g fill="#fff">
<circle cx="215.3" cy="237.2" r="7.0"/>
<path d="M204.4,245.8 H226.4 A4,4 0 0 1 230.4,249.8 V271.7 A2.9,2.9 0 0 1 224.6,271.7 V255.8 H223.4 V297.9 A3.6,3.6 0 0 1 216.2,297.9 V273.6 H214.6 V297.9 A3.6,3.6 0 0 1 207.4,297.9 V255.8 H206.2 V271.7 A2.9,2.9 0 0 1 200.4,271.7 V249.8 A4,4 0 0 1 204.4,245.8 Z"/>
</g>
<g fill="#fff" stroke="#fff" stroke-linecap="round">
<circle cx="239.6" cy="235.9" r="8.7" stroke="none"/>
<line x1="241.35" y1="228.27" x2="242.37" y2="223.85" stroke-width="1.74"/>
<line x1="240.67" y1="223.46" x2="244.06" y2="224.24" stroke-width="1.48"/>
<line x1="244.49" y1="229.79" x2="246.17" y2="227.68" stroke-width="1.74"/>
<line x1="244.82" y1="226.59" x2="247.53" y2="228.77" stroke-width="1.48"/>
<line x1="246.66" y1="232.51" x2="250.74" y2="230.55" stroke-width="1.74"/>
<line x1="249.99" y1="228.98" x2="251.50" y2="232.12" stroke-width="1.48"/>
<line x1="247.43" y1="235.91" x2="250.13" y2="235.91" stroke-width="1.74"/>
<line x1="250.13" y1="234.17" x2="250.12" y2="237.65" stroke-width="1.48"/>
<line x1="246.65" y1="239.31" x2="250.73" y2="241.28" stroke-width="1.74"/>
<line x1="251.49" y1="239.71" x2="249.97" y2="242.85" stroke-width="1.48"/>
<line x1="244.47" y1="242.03" x2="246.15" y2="244.14" stroke-width="1.74"/>
<line x1="247.51" y1="243.06" x2="244.79" y2="245.22" stroke-width="1.48"/>
<line x1="241.33" y1="243.54" x2="242.33" y2="247.95" stroke-width="1.74"/>
<line x1="244.03" y1="247.57" x2="240.64" y2="248.34" stroke-width="1.48"/>
<line x1="237.85" y1="243.53" x2="237.24" y2="246.16" stroke-width="1.74"/>
<line x1="238.94" y1="246.55" x2="235.55" y2="245.77" stroke-width="1.48"/>
<line x1="234.71" y1="242.01" x2="231.88" y2="245.55" stroke-width="1.74"/>
<line x1="233.24" y1="246.64" x2="230.52" y2="244.47" stroke-width="1.48"/>
<line x1="232.54" y1="239.29" x2="230.11" y2="240.45" stroke-width="1.74"/>
<line x1="230.86" y1="242.02" x2="229.36" y2="238.89" stroke-width="1.48"/>
<line x1="231.77" y1="235.89" x2="227.24" y2="235.88" stroke-width="1.74"/>
<line x1="227.24" y1="237.62" x2="227.24" y2="234.14" stroke-width="1.48"/>
<line x1="232.55" y1="232.49" x2="230.12" y2="231.32" stroke-width="1.74"/>
<line x1="229.37" y1="232.89" x2="230.88" y2="229.75" stroke-width="1.48"/>
<line x1="234.73" y1="229.77" x2="231.91" y2="226.23" stroke-width="1.74"/>
<line x1="230.54" y1="227.31" x2="233.27" y2="225.14" stroke-width="1.48"/>
<line x1="237.87" y1="228.26" x2="237.27" y2="225.63" stroke-width="1.74"/>
<line x1="235.58" y1="226.02" x2="238.97" y2="225.25" stroke-width="1.48"/>
</g>
<g fill="#7b7b7b">
<circle cx="239.95" cy="235.03" r="1.65"/>
<circle cx="243.42" cy="239.46" r="1.39"/>
<circle cx="239.20" cy="241.10" r="1.39"/>
<circle cx="235.28" cy="238.83" r="1.39"/>
<circle cx="234.61" cy="234.35" r="1.39"/>
<circle cx="237.70" cy="231.04" r="1.39"/>
<circle cx="242.22" cy="231.38" r="1.39"/>
<circle cx="244.76" cy="235.13" r="1.39"/>
</g>
<g stroke-linecap="round">
<circle cx="68.65" cy="25.1" r="14.85" fill="#fff" stroke="#1e9b48" stroke-width="1.9"/>
<path d="M58.7,16.6 Q55.2,25 58.7,34.2" fill="none" stroke="#dccfb3" stroke-width="1.9"/>
<path d="M78.6,16.6 Q82.1,25 78.6,34.2" fill="none" stroke="#dccfb3" stroke-width="1.9"/>
<path d="M60.6,15.0 Q68.65,11.4 76.7,15.0" fill="none" stroke="#4a3a22" stroke-width="1.1"/>
<circle cx="61.0" cy="17.0" r="1.0" fill="#e8b92c"/><circle cx="76.3" cy="17.0" r="1.0" fill="#e8b92c"/>
<circle cx="68.65" cy="16.6" r="1.35" fill="#f6cf3a" stroke="#d9a520" stroke-width="0.4"/>
<path d="M61.3,18.7 Q58.4,22.6 59.5,26.6 L63.2,26.9 Q63.9,22.4 61.3,18.7Z" fill="#e2572b"/>
<path d="M60.2,27.6 Q62.8,30.4 66,29.6" fill="none" stroke="#1e9b48" stroke-width="1.5"/>
<path d="M68.8,18.8 L73.7,29.6 H64.5Z" fill="#2b2622"/>
<path d="M68.8,20.8 L70.4,24.3 H67.2Z" fill="#d9c49a"/>
<path d="M66.2,26.6 H71.6" stroke="#d9c49a" stroke-width="0.7"/>
<path d="M74.6,19.6 l1.3,1.6 l-1.5,1.5 l1.6,1.6 l-1.5,1.6 l1.5,1.6 l-1,1.6" fill="none" stroke="#1e9b48" stroke-width="1.6" stroke-linejoin="round"/>
<path d="M62.6,29.2 Q68.65,33.2 74.9,29.2" fill="none" stroke="#1e9b48" stroke-width="1.7"/>
<circle cx="68.65" cy="32.7" r="3.7" fill="#2a8fd0"/>
<circle cx="68.65" cy="32.9" r="1.7" fill="#bfe3f5"/>
<path d="M66.3,29.4 h4.8 v1.6 h-4.8z" fill="#2b2622"/>
<path d="M57.6,38.0 Q68.65,45.0 79.7,38.0" fill="none" stroke="#2b2622" stroke-width="1.7"/>
<path d="M60.5,39.9 Q68.65,44.0 76.8,39.9" fill="none" stroke="#d9b040" stroke-width="0.5"/>
<circle cx="58.0" cy="37.9" r="1.15" fill="#e8b92c" stroke="#2b2622" stroke-width="0.4"/><circle cx="79.3" cy="37.9" r="1.15" fill="#e8b92c" stroke="#2b2622" stroke-width="0.4"/>
</g>
<text x="69.7" y="52.6" font-size="6.3" font-weight="bold" fill="#1b70b8" text-anchor="middle" textLength="56.0" lengthAdjust="spacingAndGlyphs" stroke="#1b70b8" stroke-width="0.2">Republic of Rwanda</text>
<line x1="41" y1="55.1" x2="99" y2="55.1" stroke="#c9b8a8" stroke-width="0.7"/>
<text x="70.2" y="59.9" font-size="5.3" font-weight="bold" fill="#1b70b8" text-anchor="middle" textLength="45.4" lengthAdjust="spacingAndGlyphs" stroke="#1b70b8" stroke-width="0.2">Ministry of Health</text>
<path d="M564.4,46.9 V35.4 A7.9,7.9 0 0 1 572.3,27.5 H575.1" fill="none" stroke="#4a8fd1" stroke-width="5.2"/>
<line x1="580.2" y1="19.7" x2="580.2" y2="40" stroke="#f0b323" stroke-width="5.4"/>
<circle cx="588.2" cy="37.0" r="7.3" fill="none" stroke="#f0b323" stroke-width="5.2"/>
<path d="M615.2,27.6 H610.9 A8.35,8.35 0 0 0 610.9,44.3 H615.2" fill="none" stroke="#3bab4a" stroke-width="5.2"/>
<line x1="618.7" y1="23.4" x2="618.7" y2="46.9" stroke="#222" stroke-width="0.5"/>
<text x="620.7" y="27.8" font-size="5.3" font-weight="bold" fill="#000" textLength="19.2" lengthAdjust="spacingAndGlyphs" stroke="#000" stroke-width="0.2">Rwanda</text>
<text x="620.7" y="37.0" font-size="5.3" font-weight="bold" fill="#000" textLength="27.0" lengthAdjust="spacingAndGlyphs" stroke="#000" stroke-width="0.2">Biomedical</text>
<text x="620.7" y="46.4" font-size="5.3" font-weight="bold" fill="#000" textLength="16.0" lengthAdjust="spacingAndGlyphs" stroke="#000" stroke-width="0.2">Centre</text>
<text x="561.8" y="53.6" font-size="3.9" font-weight="bold" fill="#111" textLength="54.2" lengthAdjust="spacingAndGlyphs">Healthy People, Wealthy Nation</text>
<g fill="none" stroke="#333" stroke-width="0.8"><circle cx="606.6" cy="395.9" r="3.1"/><line x1="606.6" y1="399.00" x2="606.6" y2="401.94"/><line x1="604.86" y1="400.30" x2="608.34" y2="400.30"/></g>
<g fill="none" stroke="#333" stroke-width="0.8"><circle cx="605.9" cy="411.0" r="2.8"/><line x1="607.88" y1="409.02" x2="610.60" y2="406.52"/><polyline points="608.22,406.52 610.60,406.52 610.60,408.90"/></g>
<text x="614.0" y="399.9" font-size="6.3" font-weight="normal" fill="#444" textLength="32.0" lengthAdjust="spacingAndGlyphs">: Igitsina Gore</text>
<text x="614.0" y="411.9" font-size="6.3" font-weight="normal" fill="#444" textLength="32.8" lengthAdjust="spacingAndGlyphs">: Igitsina Gabo</text>
<rect x="0" y="444.15" width="700" height="1.35" fill="#7d7d7d"/>
<circle cx="222.1" cy="457.8" r="4.4" fill="#6a6a6a"/>
<path d="M219.79999999999998,455.90000000000003 q0.3,-0.9 1.2,-0.7 l0.8,1.5 l-0.7,0.8 q0.6,1.4 1.9,2.1 l0.8,-0.6 l1.4,0.9 q0.1,0.9 -0.8,1.2 q-4.2,-0.4 -4.6,-5.2z" fill="#fff"/>
<text x="229.8" y="460.2" font-size="6.4" font-weight="bold" fill="#6a6a6a" textLength="11.8" lengthAdjust="spacingAndGlyphs">114</text>
<circle cx="256.9" cy="457.8" r="4.4" fill="#6a6a6a"/>
<path d="M254.59999999999997,455.90000000000003 q0.3,-0.9 1.2,-0.7 l0.8,1.5 l-0.7,0.8 q0.6,1.4 1.9,2.1 l0.8,-0.6 l1.4,0.9 q0.1,0.9 -0.8,1.2 q-4.2,-0.4 -4.6,-5.2z" fill="#fff"/>
<text x="264.9" y="460.2" font-size="6.4" font-weight="bold" fill="#6a6a6a" textLength="53.8" lengthAdjust="spacingAndGlyphs">+250788202080</text>
<path d="M330.2,457 l4.5,-3 l4.5,3 v4.7 h-9z" fill="#6a6a6a"/>
<path d="M331.6,457.2 h6.2 v1.4 l-3.1,1.9 l-3.1,-1.9z" fill="#fff"/>
<circle cx="334.7" cy="457" r="1.5" fill="none" stroke="#6a6a6a" stroke-width="0.6"/>
<text x="340.6" y="460.4" font-size="6.4" font-weight="normal" fill="#5f5f5f" textLength="66.6" lengthAdjust="spacingAndGlyphs">callcenter@rbc.gov.rw</text>
<path d="M417.6,456.4 q1.4,1.6 3,1.6 q-0.2,-2 1.6,-2.1 q0.7,0 1.2,0.5 l1,-0.3 l-0.6,0.9 l0.7,-0.1 l-0.8,0.8 q0.1,3.6 -3.6,4 q-1.6,0.1 -2.8,-0.7 q1.3,0.1 2,-0.6 q-1,-0.2 -1.2,-1 h0.6 q-1,-0.5 -1,-1.5 l0.6,0.2 q-0.8,-0.8 -0.7,-1.7z" fill="#6a6a6a"/>
<path d="M430.9,462 v-3.2 h-0.9 v-1.1 h0.9 v-0.9 q0,-1.4 1.5,-1.4 h0.9 v1.1 h-0.6 q-0.5,0 -0.5,0.5 v0.7 h1.1 l-0.2,1.1 h-0.9 v3.2z" fill="#6a6a6a"/>
<rect x="437.3" y="455.6" width="5.6" height="5.6" rx="1.5" fill="none" stroke="#6a6a6a" stroke-width="0.8"/><circle cx="440.1" cy="458.4" r="1.3" fill="none" stroke="#6a6a6a" stroke-width="0.7"/>
<rect x="447.2" y="457.6" width="5" height="3.9" rx="0.9" fill="#6a6a6a"/><path d="M448.2,455.2 l0.8,1.4 l0.8,-1.4 M450.6,455.3 v1.6 M451.6,455.3 v1.6" stroke="#6a6a6a" stroke-width="0.6" fill="none"/>
<text x="455.6" y="460.4" font-size="6.4" font-weight="bold" fill="#6a6a6a" textLength="50.2" lengthAdjust="spacingAndGlyphs">@RwandaHealth</text>
</svg>
</body></html>
